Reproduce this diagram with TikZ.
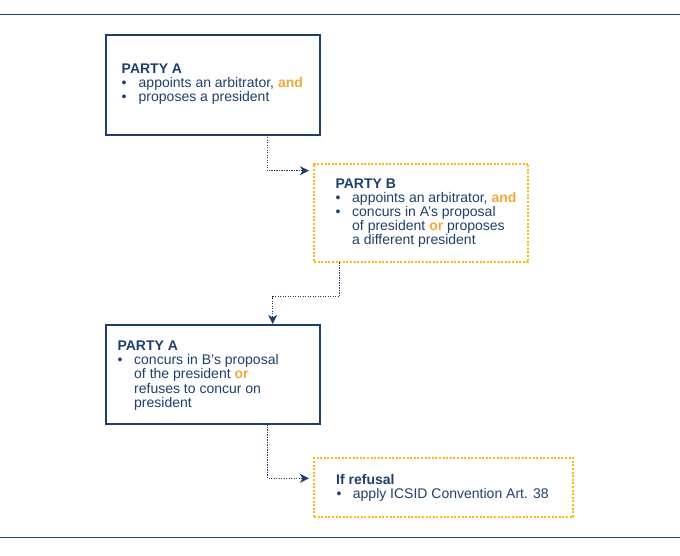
\documentclass[tikz,border=0pt]{standalone}
\usepackage{fontspec}
\setmainfont{Liberation Sans}
\usetikzlibrary{arrows.meta}
\definecolor{navy}{HTML}{1F3F6B}
\definecolor{orng}{HTML}{F5A83A}
\definecolor{ylw}{HTML}{FBBA10}
\begin{document}
\begin{tikzpicture}[x=1pt,y=-1pt,
  solidbox/.style={draw=navy,line width=2pt,fill=white,anchor=north west,inner sep=0pt,outer sep=0pt},
  dotbox/.style={draw=ylw,line width=2pt,dash pattern=on 2pt off 1.6pt,anchor=north west,inner sep=0pt,outer sep=0pt},
  txt/.style={anchor=base west,inner sep=0pt,text=navy,font=\fontsize{14}{14}\selectfont},
  ttl/.style={txt,font=\fontsize{14}{14}\selectfont\bfseries},
  conn/.style={draw=navy,line width=1.2pt,dash pattern=on 1.2pt off 1.3pt},
  tipline/.style={draw=navy,line width=1.2pt,solid,-{Stealth[length=9pt,width=9pt,inset=2.5pt]}},
  rule/.style={draw=navy,line width=1.6pt}]
\useasboundingbox (0,0) rectangle (680,555);
% rules
\coordinate (tl) at (0,14.3);
\coordinate (tr) at (680,14.3);
\coordinate (bl) at (0,537.3);
\coordinate (br) at (680,537.3);
\draw[rule] (tl) -- (tr);
\draw[rule] (bl) -- (br);
% boxes
\node[solidbox,minimum width=214pt,minimum height=99.5pt] (b1) at (106,35) {};
\node[dotbox,minimum width=214.3pt,minimum height=98.8pt] (b2) at (314,163.5) {};
\node[solidbox,minimum width=214pt,minimum height=99.3pt] (b3) at (106,325) {};
\node[dotbox,minimum width=259.3pt,minimum height=58.4pt] (b4) at (314,458.3) {};
% texts box 1
\node[ttl] (t1a) at (121.5,73) {PARTY A};
\node[txt] (t1b) at (121.5,87) {\textbullet};
\node[txt] (t1c) at (138.5,87) {appoints an arbitrator, \textcolor{orng}{\bfseries and}};
\node[txt] (t1d) at (121.5,101) {\textbullet};
\node[txt] (t1e) at (138.5,101) {proposes a president};
% texts box 2
\node[ttl] (t2a) at (335.3,188.5) {PARTY B};
\node[txt] (t2b) at (335.5,202.5) {\textbullet};
\node[txt] (t2c) at (352,202.5) {appoints an arbitrator, \textcolor{orng}{\bfseries and}};
\node[txt] (t2d) at (335.5,216.5) {\textbullet};
\node[txt] (t2e) at (352,216.5) {concurs in A’s proposal};
\node[txt] (t2f) at (352,230.5) {of president \textcolor{orng}{\bfseries or} proposes};
\node[txt] (t2g) at (352,244.5) {a different president};
% texts box 3
\node[ttl] (t3a) at (117.3,350.5) {PARTY A};
\node[txt] (t3b) at (117.5,364.7) {\textbullet};
\node[txt] (t3c) at (134,364.7) {concurs in B’s proposal};
\node[txt] (t3d) at (134,378.9) {of the president \textcolor{orng}{\bfseries or}};
\node[txt] (t3e) at (134,393.1) {refuses to concur on};
\node[txt] (t3f) at (134,407.3) {president};
% texts box 4
\node[ttl] (t4a) at (336,484) {If refusal};
\node[txt] (t4b) at (336.5,498.3) {\textbullet};
\node[txt] (t4c) at (352.7,498.3) {apply ICSID Convention Art. 38};
% connectors
\coordinate (k1) at (267.5,170.7);
\coordinate (k1t) at (302,170.7);
\coordinate (k1e) at (309,170.7);
\draw[conn] (b1.south -| k1) -- (k1) -- (k1t);
\draw[tipline] (k1t) -- (k1e);
\coordinate (k2a) at (339.3,296.7);
\coordinate (k2b) at (272.7,296.7);
\coordinate (k2t) at (272.7,317);
\coordinate (k2e) at (272.7,324);
\draw[conn] (b2.south -| k2a) -- (k2a) -- (k2b) -- (k2t);
\draw[tipline] (k2t) -- (k2e);
\coordinate (k3) at (267.5,478.3);
\coordinate (k3t) at (302,478.3);
\coordinate (k3e) at (309,478.3);
\draw[conn] (b3.south -| k3) -- (k3) -- (k3t);
\draw[tipline] (k3t) -- (k3e);
\end{tikzpicture}
\end{document}
